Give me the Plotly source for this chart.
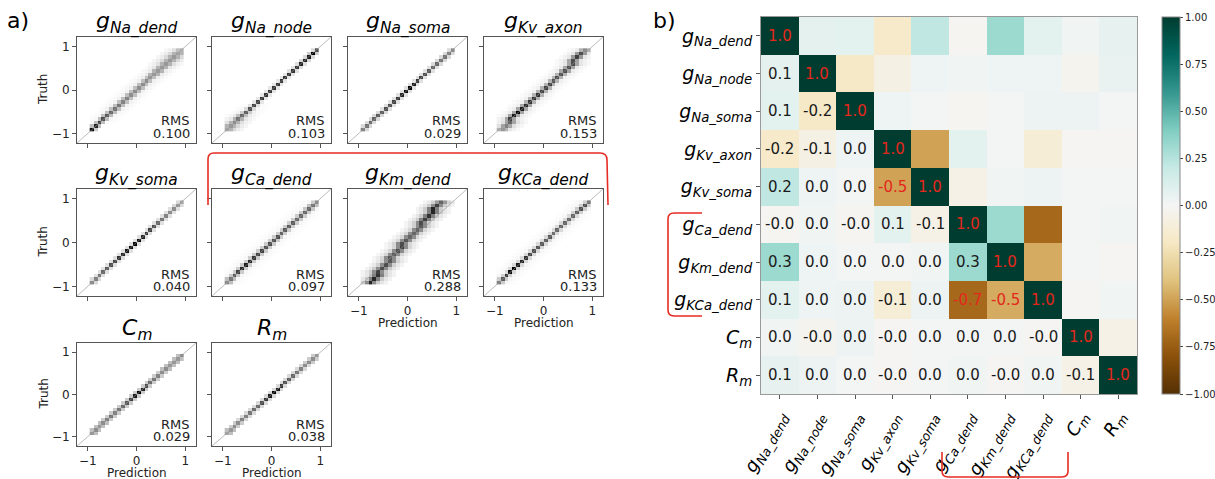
import plotly.graph_objects as go

W, H = 1215, 479
def px(x): return x / W
def py(y): return 1 - y / H

FONT = "DejaVu Sans"

# ---------------- data: left panel (prediction vs truth 2D histograms) ----------------
panel_titles = [
    "<i>g</i><sub><i>Na_dend</i></sub>", "<i>g</i><sub><i>Na_node</i></sub>",
    "<i>g</i><sub><i>Na_soma</i></sub>", "<i>g</i><sub><i>Kv_axon</i></sub>",
    "<i>g</i><sub><i>Kv_soma</i></sub>", "<i>g</i><sub><i>Ca_dend</i></sub>",
    "<i>g</i><sub><i>Km_dend</i></sub>", "<i>g</i><sub><i>KCa_dend</i></sub>",
    "<i>C</i><sub><i>m</i></sub>", "<i>R</i><sub><i>m</i></sub>",
]
rms_values = ["0.100", "0.103", "0.029", "0.153", "0.040", "0.097", "0.288", "0.133", "0.029", "0.038"]

# bin centres (24 bins of width 0.08 between -0.96 and 0.96)
bin_centers = [-0.92, -0.84, -0.76, -0.68, -0.60, -0.52, -0.44, -0.36, -0.28, -0.20, -0.12, -0.04,
               0.04, 0.12, 0.20, 0.28, 0.36, 0.44, 0.52, 0.60, 0.68, 0.76, 0.84, 0.92]

# darkness of the peak bin in each truth row (0 = white, 1 = black)
diag_na_dend = [0.95,0.85,0.75,0.7,0.65,0.6,0.55,0.55,0.5,0.5,0.45,0.45,0.45,0.45,0.45,0.4,0.4,0.4,0.4,0.4,0.4,0.4,0.35,0.3]
diag_na_node = [0.35,0.4,0.45,0.55,0.6,0.65,0.7,0.75,0.75,0.8,0.8,0.8,0.8,0.8,0.8,0.8,0.8,0.8,0.8,0.85,0.85,0.9,1.0,0.7]
diag_na_soma = [0.5,0.55,0.6,0.6,0.65,0.65,0.7,0.7,0.75,0.8,0.85,0.95,1.0,0.9,0.8,0.75,0.7,0.65,0.6,0.6,0.55,0.55,0.5,0.45]
diag_kv_axon = [0.4,0.5,0.6,0.75,0.9,1.0,0.9,0.85,0.8,0.8,0.8,0.75,0.75,0.75,0.7,0.7,0.7,0.7,0.7,0.7,0.7,0.75,0.7,0.45]
diag_kv_soma = [0.45,0.5,0.55,0.6,0.65,0.7,0.75,0.8,0.85,0.9,0.95,1.0,0.95,0.85,0.8,0.75,0.7,0.6,0.55,0.5,0.45,0.45,0.4,0.35]
diag_ca_dend = [0.45,0.55,0.65,0.75,0.85,0.9,0.85,0.8,0.75,0.75,0.7,0.7,0.7,0.7,0.65,0.65,0.65,0.65,0.6,0.6,0.6,0.6,0.55,0.45]
diag_km_dend = [0.85,0.85,0.8,0.75,0.7,0.7,0.65,0.65,0.65,0.7,0.75,0.7,0.65,0.6,0.6,0.6,0.65,0.7,0.75,0.8,0.85,0.85,0.75,0.6]
diag_kca_dend = [0.5,0.65,0.8,0.95,1.0,0.9,0.85,0.8,0.75,0.7,0.7,0.65,0.65,0.65,0.6,0.6,0.6,0.6,0.6,0.6,0.65,0.7,0.7,0.55]
diag_cm = [0.4,0.45,0.4,0.45,0.5,0.55,0.5,0.55,0.6,0.65,0.75,0.9,1.0,0.85,0.7,0.6,0.55,0.5,0.45,0.45,0.4,0.4,0.4,0.45]
diag_rm = [0.35,0.4,0.45,0.45,0.5,0.5,0.55,0.6,0.6,0.7,0.8,0.9,1.0,0.9,0.8,0.7,0.65,0.6,0.55,0.5,0.45,0.45,0.45,0.4]

# darkness of the neighbouring bins (+-1)
halo_na_dend = [0.2,0.25,0.25,0.25,0.25,0.25,0.25,0.25,0.25,0.25,0.25,0.25,0.25,0.25,0.25,0.25,0.3,0.3,0.3,0.3,0.3,0.3,0.3,0.25]
halo_na_node = [0.3,0.3,0.3,0.3,0.25,0.2,0.15,0.12,0.1,0.1,0.1,0.1,0.1,0.1,0.1,0.1,0.1,0.12,0.12,0.12,0.15,0.15,0.2,0.15]
halo_na_soma = [0.15,0.15,0.15,0.15,0.15,0.15,0.12,0.12,0.12,0.12,0.12,0.12,0.12,0.12,0.12,0.12,0.12,0.12,0.12,0.15,0.15,0.15,0.15,0.15]
halo_kv_axon = [0.3,0.35,0.35,0.35,0.35,0.35,0.35,0.35,0.3,0.3,0.3,0.3,0.3,0.3,0.3,0.3,0.3,0.35,0.35,0.35,0.35,0.4,0.4,0.3]
halo_kv_soma = [0.15,0.15,0.12,0.12,0.12,0.12,0.12,0.12,0.12,0.12,0.12,0.12,0.12,0.12,0.12,0.12,0.12,0.12,0.12,0.12,0.12,0.12,0.15,0.15]
halo_ca_dend = [0.25,0.25,0.22,0.2,0.2,0.2,0.2,0.2,0.2,0.2,0.2,0.2,0.2,0.2,0.2,0.2,0.2,0.2,0.2,0.2,0.2,0.22,0.25,0.2]
halo_km_dend = [0.45,0.5,0.5,0.45,0.45,0.45,0.45,0.45,0.45,0.45,0.45,0.45,0.45,0.45,0.45,0.45,0.45,0.45,0.5,0.5,0.5,0.5,0.45,0.4]
halo_kca_dend = [0.2,0.2,0.18,0.15,0.15,0.15,0.15,0.15,0.15,0.15,0.15,0.15,0.15,0.15,0.15,0.15,0.15,0.15,0.15,0.15,0.18,0.2,0.2,0.2]
halo_cm = [0.25,0.25,0.25,0.25,0.2,0.2,0.2,0.2,0.2,0.2,0.2,0.2,0.2,0.2,0.2,0.2,0.2,0.2,0.2,0.25,0.25,0.25,0.25,0.25]
halo_rm = [0.25,0.25,0.2,0.2,0.15,0.15,0.15,0.15,0.15,0.15,0.15,0.15,0.15,0.15,0.15,0.15,0.15,0.15,0.15,0.15,0.15,0.2,0.2,0.2]

# darkness of the wider tails (+-2, fading further out)
spread_na_dend = [0,0,0.02,0.03,0.03,0.04,0.05,0.05,0.05,0.05,0.05,0.05,0.06,0.06,0.06,0.07,0.08,0.08,0.1,0.12,0.15,0.15,0.15,0.12]
spread_na_node = [0.15,0.15,0.12,0.1,0.08,0.05,0.03,0.02,0,0,0,0,0,0,0,0,0,0,0,0,0,0,0,0]
spread_na_soma = [0]*24
spread_kv_axon = [0.1,0.12,0.12,0.1,0.08,0.08,0.07,0.06,0.06,0.06,0.06,0.06,0.06,0.06,0.06,0.06,0.07,0.08,0.08,0.1,0.1,0.1,0.1,0.08]
spread_kv_soma = [0]*24
spread_ca_dend = [0.03]*24
spread_km_dend = [0.2,0.2,0.2,0.2,0.2,0.18,0.18,0.16,0.16,0.16,0.16,0.16,0.16,0.16,0.16,0.16,0.18,0.18,0.2,0.2,0.2,0.2,0.2,0.18]
spread_kca_dend = [0.04,0.04,0.04,0.03,0.03,0.03,0.03,0.03,0.03,0.03,0.03,0.03,0.03,0.03,0.03,0.03,0.03,0.03,0.03,0.03,0.03,0.04,0.04,0.04]
spread_cm = [0]*24
spread_rm = [0]*24

# offset (in bins) of the peak prediction from the diagonal, per truth row
shift_zero = [0]*24
shift_kv_axon = [1,1,1,0,0,0,0,0,0,0,0,0,0,0,0,0,0,0,0,0,-1,-1,-1,-1]
shift_km_dend = [2,2,2,1,1,1,1,0,0,0,0,-1,-1,-1,-1,-1,-1,-2,-2,-2,-2,-3,-3,-3]

diags = [diag_na_dend, diag_na_node, diag_na_soma, diag_kv_axon, diag_kv_soma,
         diag_ca_dend, diag_km_dend, diag_kca_dend, diag_cm, diag_rm]
halos = [halo_na_dend, halo_na_node, halo_na_soma, halo_kv_axon, halo_kv_soma,
         halo_ca_dend, halo_km_dend, halo_kca_dend, halo_cm, halo_rm]
spreads = [spread_na_dend, spread_na_node, spread_na_soma, spread_kv_axon, spread_kv_soma,
           spread_ca_dend, spread_km_dend, spread_kca_dend, spread_cm, spread_rm]
shifts = [shift_zero, shift_zero, shift_zero, shift_kv_axon, shift_zero,
          shift_zero, shift_km_dend, shift_zero, shift_zero, shift_zero]

# ---------------- data: right panel (correlation matrix) ----------------
corr_labels = [
    "<i>g</i><sub><i>Na_dend</i></sub>", "<i>g</i><sub><i>Na_node</i></sub>",
    "<i>g</i><sub><i>Na_soma</i></sub>", "<i>g</i><sub><i>Kv_axon</i></sub>",
    "<i>g</i><sub><i>Kv_soma</i></sub>", "<i>g</i><sub><i>Ca_dend</i></sub>",
    "<i>g</i><sub><i>Km_dend</i></sub>", "<i>g</i><sub><i>KCa_dend</i></sub>",
    "<i>C</i><sub><i>m</i></sub>", "<i>R</i><sub><i>m</i></sub>",
]
corr_rows = [
    [1.00, 0.07, 0.08, -0.17, 0.22, -0.02, 0.32, 0.08, 0.02, 0.06],
    [0.07, 1.00, -0.18, -0.07, 0.03, 0.02, 0.03, 0.03, -0.03, 0.05],
    [0.08, -0.18, 1.00, 0.03, 0.01, -0.02, 0.01, 0.04, 0.04, 0.01],
    [-0.17, -0.07, 0.03, 1.00, -0.50, 0.08, 0.01, -0.12, -0.01, -0.01],
    [0.22, 0.03, 0.01, -0.50, 1.00, -0.06, 0.02, 0.04, 0.01, 0.01],
    [-0.02, 0.02, -0.02, 0.08, -0.06, 1.00, 0.32, -0.70, 0.01, 0.02],
    [0.32, 0.03, 0.01, 0.01, 0.02, 0.32, 1.00, -0.47, 0.01, -0.01],
    [0.08, 0.03, 0.04, -0.12, 0.04, -0.70, -0.47, 1.00, -0.01, 0.02],
    [0.02, -0.03, 0.04, -0.01, 0.01, 0.01, 0.01, -0.01, 1.00, -0.06],
    [0.06, 0.04, 0.01, -0.01, 0.01, 0.02, -0.01, 0.02, -0.06, 1.00],
]
cbar_ticks = [-1.0, -0.75, -0.5, -0.25, 0.0, 0.25, 0.5, 0.75, 1.0]

# ---------------- layout geometry (pixels) ----------------
col_left = [77, 212, 348, 484]
box_w = 119
row_top = [37, 189, 343]
row_h = [106, 107, 103]
grid_pos = [(0, 0), (0, 1), (0, 2), (0, 3), (1, 0), (1, 1), (1, 2), (1, 3), (2, 0), (2, 1)]
xlabel_shown = [False, False, False, False, False, False, True, True, True, True]
AX_RANGE = [-1.22, 1.22]
TAIL_FALLOFF = [1.0, 0.5, 0.25]

def build_z(diag, halo, spread, shift):
    n = len(diag)
    z = [[None] * n for _ in range(n)]
    for i in range(n):
        c = i + shift[i]
        vals = [(0, diag[i]), (1, halo[i]), (-1, halo[i])]
        for k, f in enumerate(TAIL_FALLOFF):
            vals += [(k + 2, spread[i] * f), (-(k + 2), spread[i] * f)]
        for off, v in vals:
            j = c + off
            if 0 <= j < n and v > 0:
                z[i][j] = v
    return z

fig = go.Figure()
layout = dict(
    width=W, height=H, margin=dict(l=0, r=0, t=0, b=0, autoexpand=False),
    paper_bgcolor="white", plot_bgcolor="white",
    font=dict(family=FONT, color="#222"),
    showlegend=False,
)
annotations = []
AXC = "#555"

for k in range(10):
    r, c = grid_pos[k]
    n = k + 1
    xs = "x" if n == 1 else f"x{n}"
    ys = "y" if n == 1 else f"y{n}"
    l, t, h = col_left[c], row_top[r], row_h[r]
    z = build_z(diags[k], halos[k], spreads[k], shifts[k])
    fig.add_trace(go.Heatmap(
        x=bin_centers, y=bin_centers, z=z, xaxis=xs, yaxis=ys,
        colorscale=[[0, "#ffffff"], [1, "#000000"]], zmin=0, zmax=1,
        showscale=False, hoverinfo="skip",
    ))
    fig.add_trace(go.Scatter(
        x=AX_RANGE, y=AX_RANGE, mode="lines", xaxis=xs, yaxis=ys,
        line=dict(color="rgba(150,150,150,0.8)", width=0.8), hoverinfo="skip",
    ))
    common = dict(range=AX_RANGE, tickvals=[-1, 0, 1], ticks="outside", ticklen=4,
                  tickcolor=AXC, showline=True, linecolor=AXC, linewidth=1, mirror=True,
                  showgrid=False, zeroline=False, automargin=False,
                  tickfont=dict(size=12, color="#222"))
    layout["xaxis" if n == 1 else f"xaxis{n}"] = dict(
        common, domain=[px(l), px(l + box_w)], anchor=ys,
        showticklabels=xlabel_shown[k])
    layout["yaxis" if n == 1 else f"yaxis{n}"] = dict(
        common, domain=[py(t + h), py(t)], anchor=xs,
        showticklabels=(c == 0))
    annotations.append(dict(text=panel_titles[k], x=px(l + box_w / 2), y=py(t - 14),
                            xref="paper", yref="paper", showarrow=False,
                            xanchor="center", yanchor="middle",
                            font=dict(size=22, color="black")))
    annotations.append(dict(text="RMS", x=px(l + box_w - 5), y=py(t + h - 22),
                            xref="paper", yref="paper", showarrow=False, xanchor="right",
                            yanchor="middle", borderpad=0,
                            font=dict(size=13, color="#222")))
    annotations.append(dict(text=rms_values[k], x=px(l + box_w - 5), y=py(t + h - 10),
                            xref="paper", yref="paper", showarrow=False, xanchor="right",
                            yanchor="middle", borderpad=0,
                            font=dict(size=13, color="#222")))
    if c == 0:
        annotations.append(dict(text="Truth", x=px(43), y=py(t + h / 2), xref="paper",
                                yref="paper", showarrow=False, textangle=-90,
                                xanchor="center", yanchor="middle",
                                font=dict(size=12, color="#222")))
    if xlabel_shown[k]:
        annotations.append(dict(text="Prediction", x=px(l + box_w / 2), y=py(t + h + 27),
                                xref="paper", yref="paper", showarrow=False,
                                xanchor="center", yanchor="middle", borderpad=0,
                                font=dict(size=12, color="#222")))

# ---------------- correlation heatmap ----------------
hm_l, hm_r, hm_t, hm_b = 761, 1137, 17, 394
idx = list(range(len(corr_labels)))
fig.add_trace(go.Heatmap(
    x=idx, y=idx, z=corr_rows, xaxis="x11", yaxis="y11",
    colorscale="BrBG", zmin=-1, zmax=1, hoverinfo="skip",
    colorbar=dict(
        x=px(1162), xanchor="left", y=py(hm_t), yanchor="top",
        len=(hm_b - hm_t) / H, lenmode="fraction", thickness=18,
        tickvals=cbar_ticks, tickformat=".2f", ticks="outside", ticklen=3,
        tickfont=dict(size=10, color="#222"), outlinewidth=1, outlinecolor="#888",
        xpad=0, ypad=0,
    ),
))
layout["xaxis11"] = dict(domain=[px(hm_l), px(hm_r)], anchor="y11", range=[-0.5, 9.5],
                         tickvals=idx, ticktext=corr_labels, tickangle=-60,
                         ticks="outside", ticklen=4, tickcolor=AXC, showline=True,
                         linecolor="#999", mirror=True, showgrid=False, zeroline=False,
                         automargin=False, tickfont=dict(size=18, color="black"))
layout["yaxis11"] = dict(domain=[py(hm_b), py(hm_t)], anchor="x11", range=[9.5, -0.5],
                         tickvals=idx, ticktext=corr_labels, ticks="outside", ticklen=4,
                         tickcolor=AXC, showline=True, linecolor="#999", mirror=True,
                         showgrid=False, zeroline=False, automargin=False,
                         tickfont=dict(size=19, color="black"))

for i in idx:
    for j in idx:
        if j <= i:
            v = corr_rows[i][j]
            col = "#e3281c" if abs(v) >= 0.45 else "#1a1a1a"
            annotations.append(dict(text=f"{v:.1f}", x=j, y=i, xref="x11", yref="y11",
                                    showarrow=False, font=dict(size=15, color=col)))

annotations.append(dict(text="a)", x=px(5), y=py(20), xref="paper", yref="paper",
                        showarrow=False, xanchor="left", yanchor="middle",
                        font=dict(size=22, color="black")))
annotations.append(dict(text="b)", x=px(651), y=py(20), xref="paper", yref="paper",
                        showarrow=False, xanchor="left", yanchor="middle",
                        font=dict(size=22, color="black")))

def P(x, y):
    return f"{px(x)},{py(y)}"

red = dict(color="rgb(230,45,35)", width=1.6)
shapes = [
    dict(type="path", xref="paper", yref="paper", line=red,
         path=f"M {P(208,205)} L {P(208,159)} Q {P(208,153)} {P(214,153)} L {P(600,153)} "
              f"Q {P(607,153)} {P(607,160)} L {P(608,205)}"),
    dict(type="path", xref="paper", yref="paper", line=red,
         path=f"M {P(702,213)} L {P(674,213)} Q {P(668,213)} {P(668,219)} L {P(668,310)} "
              f"Q {P(668,316)} {P(674,316)} L {P(702,316)}"),
    dict(type="path", xref="paper", yref="paper", line=red,
         path=f"M {P(942,452)} L {P(942,471)} Q {P(942,477)} {P(948,477)} L {P(1062,477)} "
              f"Q {P(1068,477)} {P(1068,471)} L {P(1068,452)}"),
]

layout["annotations"] = annotations
layout["shapes"] = shapes
fig.update_layout(**layout)
fig.write_html("out.html", config={"displayModeBar": False},
               post_script="document.body.style.margin='0';document.body.style.overflow='hidden';")
